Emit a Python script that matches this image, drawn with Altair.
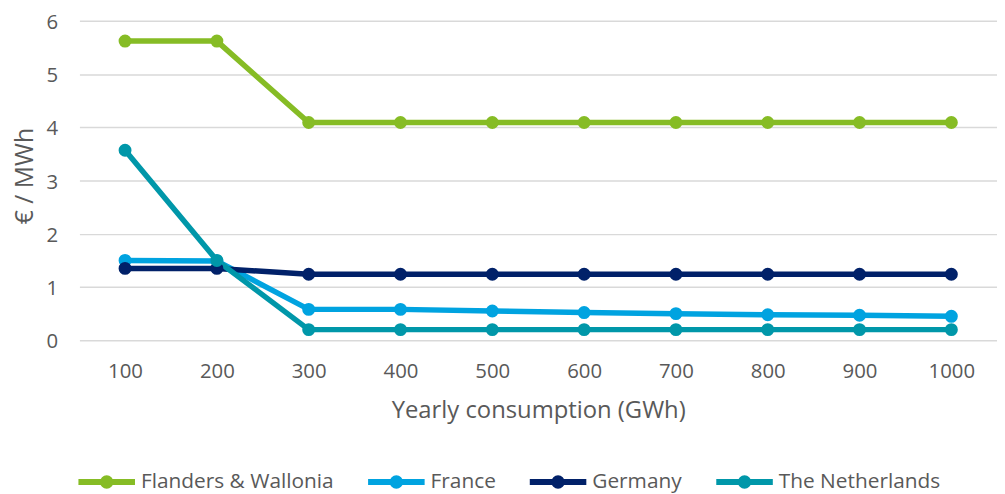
import altair as alt
import pandas as pd

consumption = [100, 200, 300, 400, 500, 600, 700, 800, 900, 1000]
series_names = ["Flanders & Wallonia", "France", "Germany", "The Netherlands"]
flanders = [5.62, 5.62, 4.09, 4.09, 4.09, 4.09, 4.09, 4.09, 4.09, 4.09]
france = [1.50, 1.49, 0.58, 0.58, 0.55, 0.52, 0.50, 0.48, 0.47, 0.45]
germany = [1.35, 1.35, 1.24, 1.24, 1.24, 1.24, 1.24, 1.24, 1.24, 1.24]
netherlands = [3.57, 1.50, 0.20, 0.20, 0.20, 0.20, 0.20, 0.20, 0.20, 0.20]
colors = ["#86BC25", "#00A3E0", "#012169", "#0097A9"]

rows = []
for name, vals in zip(series_names, [flanders, france, germany, netherlands]):
    for c, v in zip(consumption, vals):
        rows.append({"consumption": str(c), "series": name, "value": v})
df = pd.DataFrame(rows)

# legend glyph: a line with a dot in the middle (stroked path)
sym = ("M-1,0H1"
       "M0.045,0A0.045,0.045,0,1,1,-0.045,0A0.045,0.045,0,1,1,0.045,0"
       "M0.13,0A0.13,0.13,0,1,1,-0.13,0A0.13,0.13,0,1,1,0.13,0")

FONT = "Open Sans"
GREY = "#595959"

x = alt.X(
    "consumption:O",
    sort=[str(c) for c in consumption],
    scale=alt.Scale(type="point", padding=0.497),
    axis=alt.Axis(title="Yearly consumption (GWh)", labelAngle=0, ticks=False,
                  domain=False, grid=False, labelPadding=22, titlePadding=16,
                  labelFontSize=20.5, titleFontSize=24),
)
y = alt.Y(
    "value:Q",
    scale=alt.Scale(domain=[0, 6], nice=False),
    axis=alt.Axis(title="€ / MWh", values=[0, 1, 2, 3, 4, 5, 6], ticks=False,
                  domain=False, grid=True, gridColor="#D9D9D9", gridWidth=1.5,
                  labelPadding=22, titlePadding=9, labelFontSize=20.5,
                  labelBaseline="alphabetic", labelOffset=7.5,
                  titleFontSize=25, titleY=156),
)
color = alt.Color(
    "series:N",
    scale=alt.Scale(domain=series_names, range=colors),
    legend=alt.Legend(orient="none", legendX=-4, legendY=433, direction="horizontal",
                      title=None, symbolType=sym, symbolSize=3249,
                      symbolStrokeWidth=6, labelFontSize=21, columnPadding=22,
                      labelOffset=3, labelColor=GREY, labelLimit=400),
)

base = alt.Chart(df).encode(x=x, y=y, color=color)
line = base.mark_line(strokeWidth=5.5)
pts = base.mark_circle(size=170, opacity=1)

chart = alt.layer(line, pts).properties(
    width=925, height=322,
    autosize=alt.AutoSizeParams(type="none"),
    padding={"left": 72, "top": 11, "right": 0, "bottom": 152},
).configure(font=FONT).configure_axis(
    labelColor=GREY, titleColor=GREY, labelFont=FONT, titleFont=FONT,
    titleFontWeight="normal",
).configure_legend(labelFont=FONT).configure_view(stroke=None)

chart.save("out.html", embed_options={"renderer": "svg", "actions": False})
